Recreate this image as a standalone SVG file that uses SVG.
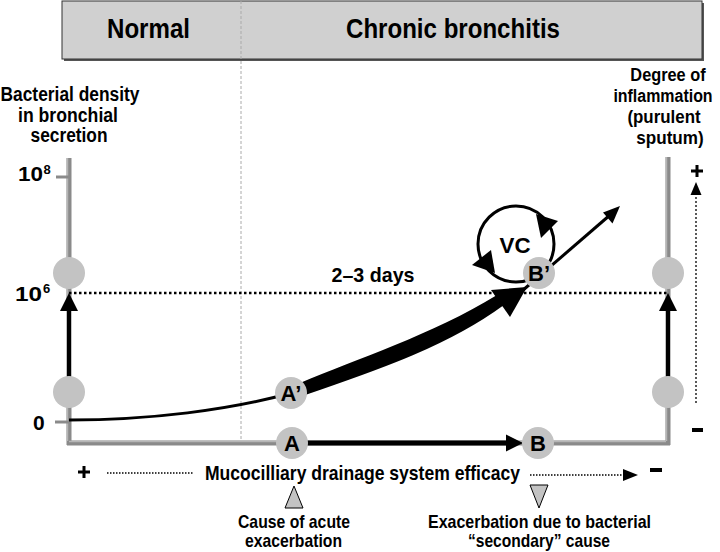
<svg xmlns="http://www.w3.org/2000/svg" width="720" height="552" viewBox="0 0 720 552">
<defs>
<style>
text{font-family:"Liberation Sans",Arial,sans-serif;font-weight:bold;fill:#000}
.t19{font-size:20px;text-anchor:middle}
.rt{font-size:19px;text-anchor:middle}
.t20{font-size:21px;text-anchor:middle}
.t18{font-size:19px;text-anchor:middle}
.hdr{font-size:28px;text-anchor:middle}
.lbl{font-size:22px;text-anchor:middle}
.node{fill:#c3c3c3;stroke:none}
.axis{stroke:#8a8a8a;stroke-width:5;fill:none}
.axhi{stroke:#b5b5b5;stroke-width:1.5;fill:none}
.dot{stroke:#000;stroke-width:2.5;stroke-dasharray:2.5 2.5;fill:none}
.fine{stroke:#000;stroke-width:1.5;stroke-dasharray:1.5 1.5;fill:none}
</style>
</defs>
<rect width="720" height="552" fill="#fff"/>

<g id="header">
<rect x="64" y="3" width="640" height="58" fill="#555"/>
<rect x="62" y="1" width="640" height="58" fill="#d0d0d0" stroke="#333" stroke-width="1"/>
<text class="hdr" x="148.5" y="38" textLength="83" lengthAdjust="spacingAndGlyphs">Normal</text>
<text class="hdr" x="453" y="38" textLength="214" lengthAdjust="spacingAndGlyphs">Chronic bronchitis</text>
</g>

<line x1="241" y1="1" x2="241" y2="441" stroke="#aaa" stroke-width="1" stroke-dasharray="3 2"/>

<g id="axis-left-title">
<text class="t19" x="70" y="101" textLength="139" lengthAdjust="spacingAndGlyphs">Bacterial density</text>
<text class="t19" x="68" y="122" textLength="100" lengthAdjust="spacingAndGlyphs">in bronchial</text>
<text class="t19" x="69" y="142" textLength="77" lengthAdjust="spacingAndGlyphs">secretion</text>
</g>
<g id="axis-right-title">
<text class="rt" transform="translate(668,81) scale(0.86,1)" x="0" y="0">Degree of</text>
<text class="rt" transform="translate(663,102) scale(0.84,1)" x="0" y="0">inflammation</text>
<text class="rt" transform="translate(664,123) scale(0.89,1)" x="0" y="0">(purulent</text>
<text class="rt" transform="translate(670,144) scale(0.9,1)" x="0" y="0">sputum)</text>
</g>

<g id="axes">
<line class="axis" x1="69" y1="158" x2="69" y2="445"/>
<line class="axis" x1="668" y1="157" x2="668" y2="445"/>
<line class="axis" x1="67" y1="443" x2="670" y2="443"/>
<line class="axhi" x1="67.5" y1="158" x2="67.5" y2="441"/>
<line class="axhi" x1="666.5" y1="157" x2="666.5" y2="441"/>
<line class="axhi" x1="69" y1="441.5" x2="666" y2="441.5"/>
<line x1="56" y1="177" x2="69" y2="177" stroke="#8a8a8a" stroke-width="3"/>
<line x1="55" y1="422" x2="69" y2="422" stroke="#8a8a8a" stroke-width="3"/>
<text style="font-size:21px" x="18" y="181" textLength="25" lengthAdjust="spacingAndGlyphs">10</text>
<text style="font-size:13px" x="43.5" y="174">8</text>
<text style="font-size:21px" x="15" y="301" textLength="27" lengthAdjust="spacingAndGlyphs">10</text>
<text style="font-size:13px" x="43" y="293">6</text>
<text style="font-size:21px" x="33" y="430">0</text>
</g>

<g id="connectors">
<line class="dot" x1="69" y1="293" x2="668" y2="293"/>
<line x1="69" y1="377" x2="69" y2="308" stroke="#000" stroke-width="4"/>
<polygon points="69,293 60,311 78,311" fill="#000"/>
<line x1="668" y1="377" x2="668" y2="308" stroke="#000" stroke-width="4"/>
<polygon points="668,293 659,311 677,311" fill="#000"/>
<path d="M69,420 C150,420 230,410 291,393" stroke="#000" stroke-width="3" fill="none"/>
<path d="M300,393 C360,372 440,347 503,302 L497,295 C432,335 356,359 300,383 Z" fill="#000"/>
<path d="M300,391 C360,370 440,345 500,301" stroke="#000" stroke-width="11" fill="none"/>
<polygon points="527,287 510,317 491,290" fill="#000"/>
<line x1="522" y1="291" x2="610" y2="215" stroke="#000" stroke-width="3"/>
<polygon points="620,206 603,212.5 612.5,223.5" fill="#000"/>
<circle cx="516" cy="244" r="38" stroke="#000" stroke-width="3" fill="none"/>
<polygon points="541,238 536,214 558,221" fill="#000"/>
<polygon points="491,250 495,273 472,265" fill="#000"/>
<line x1="306" y1="443" x2="508" y2="443" stroke="#000" stroke-width="5"/>
<polygon points="523,443 506,434.5 506,451.5" fill="#000"/>
<line x1="696" y1="403" x2="696" y2="192" stroke="#000" stroke-width="1.3" stroke-dasharray="2 2"/>
<polygon points="696,182 690.5,195 701.5,195" fill="#000"/>
<line class="fine" x1="107" y1="473" x2="193" y2="473"/>
<line class="fine" x1="530" y1="475" x2="624" y2="475"/>
<polygon points="638,475 623,469 623,481" fill="#000"/>
</g>

<g id="signs">
<path d="M691,171 H703 M697,165 V177" stroke="#000" stroke-width="3"/>
<line x1="692" y1="430" x2="703" y2="430" stroke="#000" stroke-width="4"/>
<path d="M78,472 H90 M84,466 V478" stroke="#000" stroke-width="3"/>
<line x1="650" y1="470" x2="662" y2="470" stroke="#000" stroke-width="4"/>
</g>

<g id="node-left-top"><circle class="node" cx="69" cy="273" r="16"/></g>
<g id="node-left-bottom"><circle class="node" cx="69" cy="392" r="16"/></g>
<g id="node-right-top"><circle class="node" cx="668" cy="273" r="16"/></g>
<g id="node-right-bottom"><circle class="node" cx="668" cy="392" r="16"/></g>
<g id="node-A-prime"><circle class="node" cx="291" cy="393" r="16"/><text class="lbl" x="291" y="401">A’</text></g>
<g id="node-B-prime"><circle class="node" cx="539" cy="273" r="16"/><text class="lbl" x="539" y="281">B’</text></g>
<g id="node-A"><circle class="node" cx="292" cy="443" r="16"/><text class="lbl" x="292" y="451">A</text></g>
<g id="node-B"><circle class="node" cx="538" cy="443" r="16"/><text class="lbl" x="538" y="451">B</text></g>
<g id="node-VC"><text class="lbl" x="515" y="253" textLength="31" lengthAdjust="spacingAndGlyphs">VC</text></g>

<g id="label-days"><text class="t20" x="373" y="282" textLength="83" lengthAdjust="spacingAndGlyphs">2–3 days</text></g>
<g id="label-efficacy"><text class="t20" x="362.5" y="480" textLength="315" lengthAdjust="spacingAndGlyphs">Mucocilliary drainage system efficacy</text></g>

<g id="marker-cause">
<polygon points="294,486 285,508 303,508" fill="#c3c3c3" stroke="#000" stroke-width="1"/>
<text class="t18" x="294" y="528" textLength="112" lengthAdjust="spacingAndGlyphs">Cause of acute</text>
<text class="t18" x="293.5" y="547" textLength="97" lengthAdjust="spacingAndGlyphs">exacerbation</text>
</g>
<g id="marker-secondary">
<polygon points="530,485 548,485 539,508" fill="#c3c3c3" stroke="#000" stroke-width="1"/>
<text class="t18" x="539.5" y="528" textLength="223" lengthAdjust="spacingAndGlyphs">Exacerbation due to bacterial</text>
<text class="t18" x="539" y="547" textLength="142" lengthAdjust="spacingAndGlyphs">“secondary” cause</text>
</g>
</svg>
